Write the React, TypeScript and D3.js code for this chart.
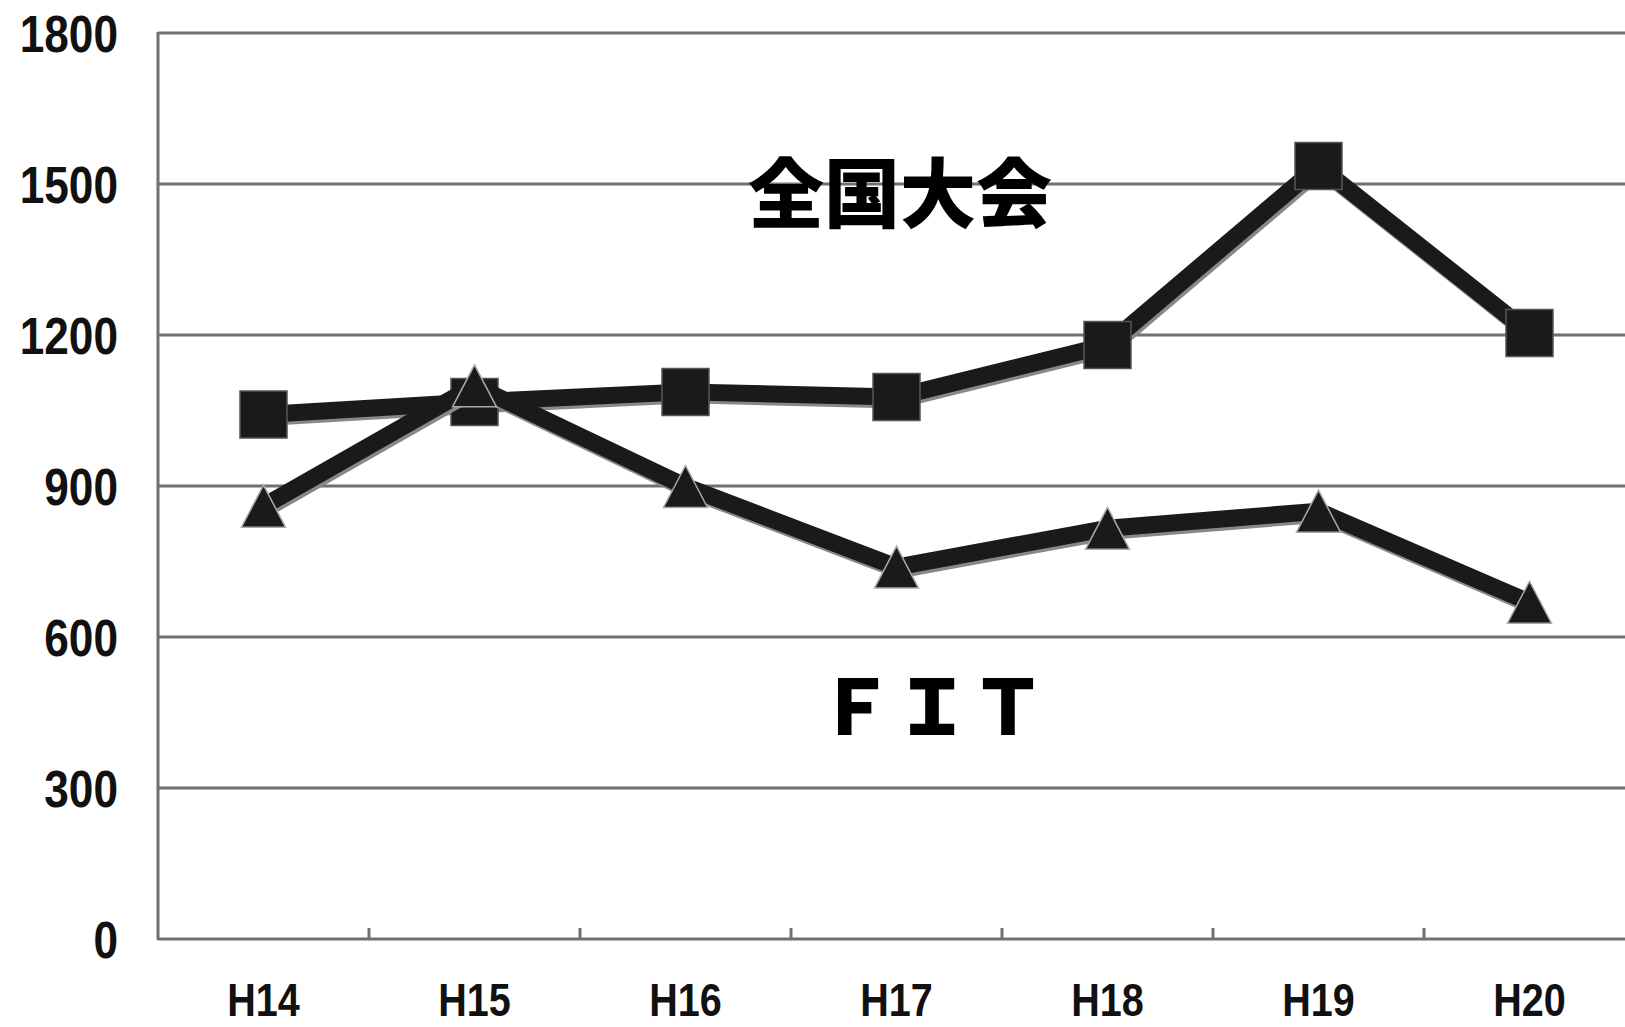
import React from 'react';
import * as d3 from 'd3';

const years = ['H14', 'H15', 'H16', 'H17', 'H18', 'H19', 'H20'];
const nationalValues = [1042, 1067, 1087, 1077, 1180, 1536, 1204];
const fitValues = [860, 1099, 899, 739, 816, 850, 669];
const yTicks = [0, 300, 600, 900, 1200, 1500, 1800];

const W = 1625;
const H = 1027;
const left = 158;
const bandW = 211;
const top = 33;
const bottom = 939;

const gridColor = '#707070';
const ink = '#1a1a1a';
const numFont = "'Liberation Sans', Arial, sans-serif";
const cjkFont = "'Noto Sans CJK JP', 'Noto Sans CJK SC', sans-serif";

const App: React.FC = () => {
  const x = d3.scaleBand<string>().domain(years).range([left, left + bandW * years.length]);
  const y = d3.scaleLinear().domain([0, 1800]).range([bottom, top]);
  const cx = (d: string) => (x(d) ?? 0) + x.bandwidth() / 2;

  const line = d3.line<number>()
    .x((_, i) => cx(years[i]))
    .y(d => y(d));

  const square = d3.symbol().type(d3.symbolSquare).size(47 * 47)();
  // triangle drawn by hand so its bounding box is centred on the point
  const tri = (px: number, py: number) => {
    const h = 42, w = 44;
    return `M${px},${py - h / 2}L${px + w / 2},${py + h / 2}L${px - w / 2},${py + h / 2}Z`;
  };

  const boundaries = d3.range(years.length + 1).map(i => left + i * bandW);

  return (
    <svg width={W} height={H} style={{ position: 'absolute', left: 0, top: 0, display: 'block', background: '#fff' }}>
      {/* gridlines */}
      {yTicks.filter(t => t > 0).map(t => (
        <line key={t} x1={left} x2={W} y1={y(t)} y2={y(t)} stroke={gridColor} strokeWidth={3} />
      ))}
      {/* axes */}
      <line x1={left} x2={left} y1={top - 1} y2={bottom + 1} stroke={gridColor} strokeWidth={3} />
      <line x1={left} x2={W} y1={bottom} y2={bottom} stroke={gridColor} strokeWidth={3} />
      {boundaries.slice(1).map(b => (
        <line key={b} x1={b} x2={b} y1={bottom} y2={bottom - 11} stroke={gridColor} strokeWidth={3} />
      ))}

      {/* y tick labels, squeezed horizontally like the original gothic font */}
      {yTicks.map(t => (
        <text key={t} transform={`translate(118,${y(t)}) scale(0.85,1)`} dy="0.36em" textAnchor="end"
          fontFamily={numFont} fontWeight="bold" fontSize={52} fill="#111">{t}</text>
      ))}
      {/* x tick labels */}
      {years.map(d => (
        <text key={d} transform={`translate(${cx(d)},1016) scale(0.86,1)`} textAnchor="middle"
          fontFamily={numFont} fontWeight="bold" fontSize={46} fill="#111">{d}</text>
      ))}

      {/* 全国大会 series */}
      <path d={line(nationalValues) ?? ''} transform="translate(2,3)" fill="none" stroke="#888" strokeWidth={17} strokeLinejoin="round" />
      <path d={line(nationalValues) ?? ''} fill="none" stroke={ink} strokeWidth={17} strokeLinejoin="round" />
      {nationalValues.map((v, i) => (
        <path key={i} d={square ?? ''} transform={`translate(${cx(years[i])},${y(v)})`}
          fill={ink} stroke="#555" strokeWidth={1.5} />
      ))}

      {/* FIT series */}
      <path d={line(fitValues) ?? ''} transform="translate(2,3)" fill="none" stroke="#888" strokeWidth={17} strokeLinejoin="round" />
      <path d={line(fitValues) ?? ''} fill="none" stroke={ink} strokeWidth={17} strokeLinejoin="round" />
      {fitValues.map((v, i) => (
        <path key={i} d={tri(cx(years[i]), y(v))} fill={ink} stroke="#aaa" strokeWidth={1.5} strokeLinejoin="miter" />
      ))}

      {/* series labels */}
      <text x={900} y={222} textAnchor="middle" fontFamily={cjkFont} fontWeight={900} fontSize={76} fill="#000">全国大会</text>
      <text x={932} y={735} textAnchor="middle" fontFamily={cjkFont} fontWeight={900} fontSize={76} fill="#000">ＦＩＴ</text>
    </svg>
  );
};

export default App;
